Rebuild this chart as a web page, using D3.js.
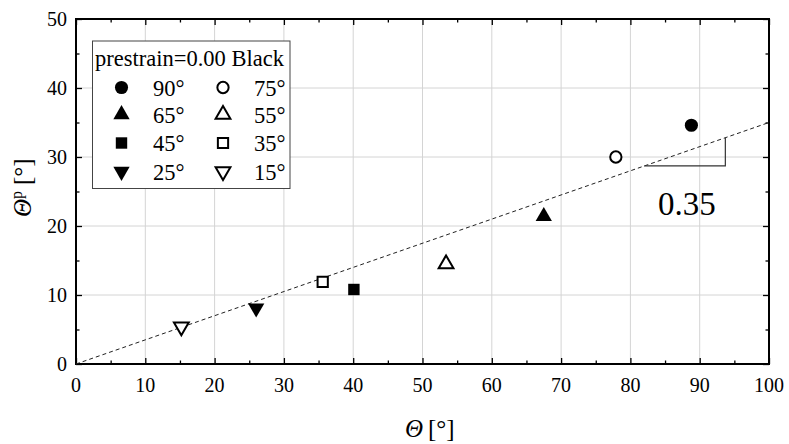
<!DOCTYPE html>
<html>
<head>
<meta charset="utf-8">
<script src="https://cdn.jsdelivr.net/npm/d3@7"></script>
<style>
  body { margin: 0; background: #fff; }
  svg { display: block; }
</style>
</head>
<body>
<svg id="chart" width="789" height="444"></svg>
<script>
// ---- data ----
const labels = ["90°", "75°", "65°", "55°", "45°", "35°", "25°", "15°"];
const thetaX = [88.8, 77.9, 67.5, 53.4, 40.1, 35.6, 26.0, 15.2];
const thetaP = [34.6, 30.0, 21.4, 14.5, 10.8, 11.9, 8.1, 5.4];
const shapes = ["circle", "circle", "up", "up", "square", "square", "down", "down"];
const filled = [true, false, true, false, true, false, true, false];
const xTicks = [0, 10, 20, 30, 40, 50, 60, 70, 80, 90, 100];
const yTicks = [0, 10, 20, 30, 40, 50];
const slope = 0.35;
const legendTitle = "prestrain=0.00 Black";
const legendOrder = [0, 1, 2, 3, 4, 5, 6, 7];

// ---- layout ----
const svg = d3.select("#chart");
const FONT = "'Liberation Serif', 'Times New Roman', Times, serif";
const L = 76, R = 769, T = 19, B = 364;
const x = d3.scaleLinear().domain([0, 100]).range([L, R]);
const y = d3.scaleLinear().domain([0, 50]).range([B, T]);

// gridlines
const grid = svg.append("g");
grid.selectAll(".gx").data(xTicks.slice(1, -1)).join("line")
  .attr("x1", d => x(d)).attr("x2", d => x(d)).attr("y1", T).attr("y2", B)
  .attr("stroke", "#d4d4d4").attr("stroke-width", 1);
grid.selectAll(".gy").data(yTicks.slice(1, -1)).join("line")
  .attr("y1", d => y(d)).attr("y2", d => y(d)).attr("x1", L).attr("x2", R)
  .attr("stroke", "#d4d4d4").attr("stroke-width", 1);

// axes with inner ticks (tick marks only)
const xMinor = d3.range(5, 100, 10);
const yMinor = d3.range(5, 50, 10);
function styleAxis(g) {
  g.select(".domain").remove();
  g.selectAll("text").remove();
  g.selectAll("line").attr("stroke", "#000").attr("stroke-width", 1.3);
}
const axes = [
  [d3.axisBottom(x).tickValues(xTicks).tickSize(-6), `translate(0,${B})`],
  [d3.axisBottom(x).tickValues(xMinor).tickSize(-3.5), `translate(0,${B})`],
  [d3.axisTop(x).tickValues(xTicks).tickSize(-6), `translate(0,${T})`],
  [d3.axisTop(x).tickValues(xMinor).tickSize(-3.5), `translate(0,${T})`],
  [d3.axisLeft(y).tickValues(yTicks).tickSize(-6), `translate(${L},0)`],
  [d3.axisLeft(y).tickValues(yMinor).tickSize(-3.5), `translate(${L},0)`],
  [d3.axisRight(y).tickValues(yTicks).tickSize(-6), `translate(${R},0)`],
  [d3.axisRight(y).tickValues(yMinor).tickSize(-3.5), `translate(${R},0)`]
];
axes.forEach(([ax, tr]) => svg.append("g").attr("transform", tr).call(ax.tickFormat("")).call(styleAxis));

// tick labels (plain serif text)
svg.selectAll(".xl").data(xTicks).join("text")
  .attr("x", d => x(d)).attr("y", B + 28)
  .attr("text-anchor", "middle").style("font-family", FONT).attr("font-size", 20).attr("fill", "#000")
  .text(d3.format("d"));
svg.selectAll(".yl").data(yTicks).join("text")
  .attr("x", L - 9).attr("y", d => y(d) + 7)
  .attr("text-anchor", "end").style("font-family", FONT).attr("font-size", 20).attr("fill", "#000")
  .text(d3.format("d"));

// frame
svg.append("rect").attr("x", L).attr("y", T).attr("width", R - L).attr("height", B - T)
  .attr("fill", "none").attr("stroke", "#000").attr("stroke-width", 2);

// fit line
svg.append("line")
  .attr("x1", x(0)).attr("y1", y(0)).attr("x2", x(100)).attr("y2", y(100 * slope))
  .attr("stroke", "#222").attr("stroke-width", 1).attr("stroke-dasharray", "4,3");

// slope bracket
const bx0 = 82, bx1 = 93.7;
svg.append("path")
  .attr("d", `M${x(bx0)},${y(bx0 * slope)} H${x(bx1)} V${y(bx1 * slope)}`)
  .attr("fill", "none").attr("stroke", "#333").attr("stroke-width", 1.2);
svg.append("text").attr("x", x((bx0 + bx1) / 2) + 2).attr("y", 215)
  .style("font-family", FONT)
  .attr("text-anchor", "middle").attr("font-size", 33).text(slope.toFixed(2));

// markers
function symPath(shape, open) {
  if (shape === "circle") return d3.symbol(d3.symbolCircle, open ? 100 : 135)();
  if (shape === "square") return d3.symbol(d3.symbolSquare, open ? 105 : 130)();
  return d3.symbol(d3.symbolTriangle, open ? 95 : 115)();
}
function drawMarker(g, i, cx, cy) {
  const rot = shapes[i] === "down" ? 180 : 0;
  g.append("path")
    .attr("d", symPath(shapes[i], !filled[i]))
    .attr("transform", `translate(${cx},${cy}) rotate(${rot})`)
    .attr("fill", filled[i] ? "#000" : "#fff")
    .attr("stroke", "#000").attr("stroke-width", filled[i] ? 0 : 2);
}
const pts = svg.append("g");
thetaX.forEach((v, i) => drawMarker(pts, i, x(v), y(thetaP[i])));

// legend
const lg = svg.append("g");
lg.append("rect").attr("x", 92.5).attr("y", 41).attr("width", 197.5).attr("height", 147.5)
  .attr("fill", "#fff").attr("stroke", "#444").attr("stroke-width", 1);
lg.append("text").attr("x", 95).attr("y", 66).attr("font-size", 22.5).style("font-family", FONT).text(legendTitle);
const rowY = [87.5, 114.5, 143, 171.5];
legendOrder.forEach((idx, k) => {
  const col = k % 2, row = Math.floor(k / 2);
  const mx = col === 0 ? 121.5 : 223;
  const tx = col === 0 ? 153 : 254;
  drawMarker(lg, idx, mx, rowY[row]);
  lg.append("text").attr("x", tx).attr("y", rowY[row] + 8).attr("font-size", 22.5)
    .style("font-family", FONT).text(labels[idx]);
});

// axis titles
svg.append("text").attr("x", 405).attr("y", 437).style("font-family", FONT)
  .attr("font-style", "italic").attr("font-size", 25).text("Θ");
svg.append("text").attr("x", 428).attr("y", 437).style("font-family", FONT)
  .attr("font-size", 25).text("[°]");
svg.append("text").attr("transform", "translate(31,217) rotate(-90)").style("font-family", FONT)
  .attr("font-style", "italic").attr("font-size", 25).text("Θ");
svg.append("text").attr("transform", "translate(22,199) rotate(-90)").style("font-family", FONT)
  .attr("font-size", 16).text("p");
svg.append("text").attr("transform", "translate(31,185) rotate(-90)").style("font-family", FONT)
  .attr("font-size", 25).text("[°]");
</script>
</body>
</html>
